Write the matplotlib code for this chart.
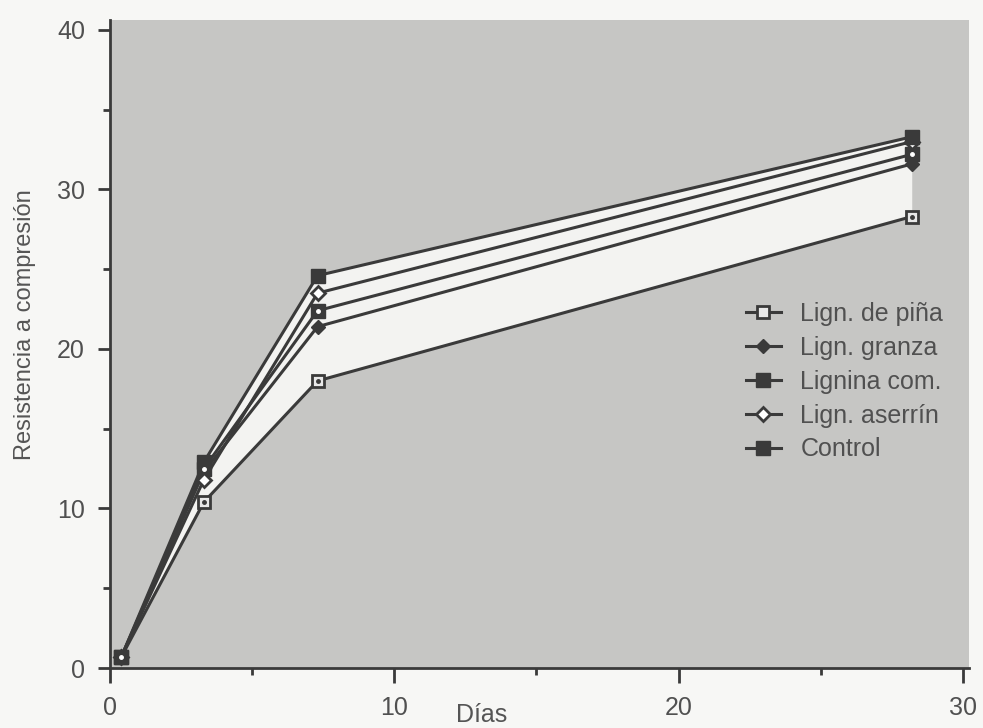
import matplotlib
matplotlib.use("Agg")
import matplotlib.pyplot as plt
from matplotlib.ticker import MultipleLocator

plt.rcParams['font.family'] = ['Liberation Sans', 'DejaVu Sans']

dias = [0.4, 3.3, 7.3, 28.2]
series_names = ["Lign. de piña", "Lign. granza", "Lignina com.", "Lign. aserrín", "Control"]
pina = [0.7, 10.4, 18.0, 28.3]
granza = [0.7, 12.3, 21.4, 31.6]
lignina = [0.7, 12.5, 22.4, 32.2]
aserrin = [0.7, 11.8, 23.5, 33.0]
control = [0.7, 12.9, 24.6, 33.3]

x_ticks = [0, 10, 20, 30]
y_ticks = [0, 10, 20, 30, 40]

W, H = 983, 728
fig = plt.figure(figsize=(W / 100, H / 100), dpi=100)
fig.patch.set_facecolor("#f7f7f5")

x0, x1 = 110, 968.6
y0, y1 = 668, 20.4
ax = fig.add_axes([x0 / W, 1 - y0 / H, (x1 - x0) / W, (y0 - y1) / H])
ax.set_facecolor("#c6c6c4")
ax.set_xlim(0, 30.2)
ax.set_ylim(0, 40.6)

lc = "#3a3a3a"
ax.fill_between(dias, pina, control, color="#f3f3f1", zorder=1, lw=0)

styles = {
    "Lign. de piña": dict(marker="s", mfc="#e8e8e8", mec=lc, ms=8.5, mew=2),
    "Lign. granza": dict(marker="D", mfc=lc, mec=lc, ms=7.5, mew=1),
    "Lignina com.": dict(marker="s", mfc=lc, mec=lc, ms=9.5, mew=1),
    "Lign. aserrín": dict(marker="D", mfc="white", mec=lc, ms=7.5, mew=2),
    "Control": dict(marker="s", mfc=lc, mec=lc, ms=10.5, mew=1),
}
data = {"Lign. de piña": pina, "Lign. granza": granza, "Lignina com.": lignina,
        "Lign. aserrín": aserrin, "Control": control}

handles = []
for name in series_names:
    h, = ax.plot(dias, data[name], color=lc, lw=2.2, zorder=3, label=name, **styles[name])
    handles.append(h)
    if name in ("Lign. de piña", "Lignina com."):
        dc = lc if name == "Lign. de piña" else "white"
        ax.plot(dias, data[name], ls="none", marker="o", ms=2.5, mfc=dc, mec=dc, zorder=4)

for s in ["top", "right"]:
    ax.spines[s].set_visible(False)
for s in ["left", "bottom"]:
    ax.spines[s].set_color(lc)
    ax.spines[s].set_linewidth(2)

ax.set_xticks(x_ticks)
ax.set_yticks(y_ticks)
ax.xaxis.set_minor_locator(MultipleLocator(5))
ax.yaxis.set_minor_locator(MultipleLocator(5))
ax.tick_params(which="major", direction="out", length=9, width=2, color=lc,
               labelsize=18, labelcolor="#505050")
ax.tick_params(which="minor", direction="out", length=5, width=2, color=lc)
ax.tick_params(axis="x", which="major", length=11, pad=9)
ax.tick_params(axis="y", which="major", pad=9)

fig.text(25 / W, 1 - 325 / H, "Resistencia a compresión", fontsize=17, color="#555555",
         rotation=90, ha="center", va="center")
fig.text(482 / W, 1 - 715 / H, "Días", fontsize=18, color="#555555", ha="center", va="center")

leg = ax.legend(handles=handles, loc="upper left", bbox_to_anchor=(723 / W, 1 - 279 / H),
                bbox_transform=fig.transFigure, frameon=False, fontsize=18,
                labelspacing=0.4, handlelength=1.4, handletextpad=0.8, labelcolor="#505050")

fig.savefig("out.png", dpi=100, facecolor=fig.get_facecolor())
